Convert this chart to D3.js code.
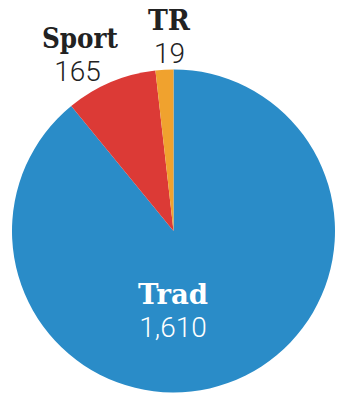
<!DOCTYPE html>
<html><head><meta charset="utf-8">
<script src="https://cdn.jsdelivr.net/npm/d3@7"></script>
<style>body{margin:0;background:#fff}</style>
</head><body>
<svg id="c" width="349" height="401"></svg>
<script>
const categories = ["Trad", "Sport", "TR"];
const values = [1610, 165, 19];
const valueLabels = ["1,610", "165", "19"];
const colors = ["#2a8cc8", "#dc3a36", "#f0a22e"];

const svg = d3.select("#c");
const cx = 173.5, cy = 231, r = 161.5;
const g = svg.append("g").attr("transform", `translate(${cx},${cy})`);
// small slices are given a minimum visible share, as in the original graphic
const total = d3.sum(values);
const minShare = 0.018;
const pie = d3.pie().sort(null).value(d => Math.max(d, total * minShare))(values);
const arc = d3.arc().innerRadius(0).outerRadius(r);
g.selectAll("path").data(pie).enter().append("path")
  .attr("d", arc).attr("fill", (d,i) => colors[i]);

const labelPos = [
  {x: -0.5, y: 73, nx: -0.5, w: 70, fill: "#fff"},
  {x: -93.5, y: -183, nx: -96, w: 76, fill: "#222"},
  {x: -4.5, y: -201, nx: -4, w: 42, fill: "#222"}
];
categories.forEach((c, i) => {
  const p = labelPos[i];
  g.append("text").attr("x", p.x).attr("y", p.y)
    .attr("text-anchor", "middle")
    .attr("font-family", "DejaVu Serif").attr("font-weight", "bold")
    .attr("font-size", 27).attr("fill", p.fill)
    .attr("textLength", p.w).attr("lengthAdjust", "spacingAndGlyphs")
    .text(c);
  g.append("text").attr("x", p.nx).attr("y", p.y + 33)
    .attr("text-anchor", "middle")
    .attr("font-family", "Roboto").attr("font-weight", 300)
    .attr("font-size", 28).attr("fill", p.fill).text(valueLabels[i]);
});
</script>
</body></html>
